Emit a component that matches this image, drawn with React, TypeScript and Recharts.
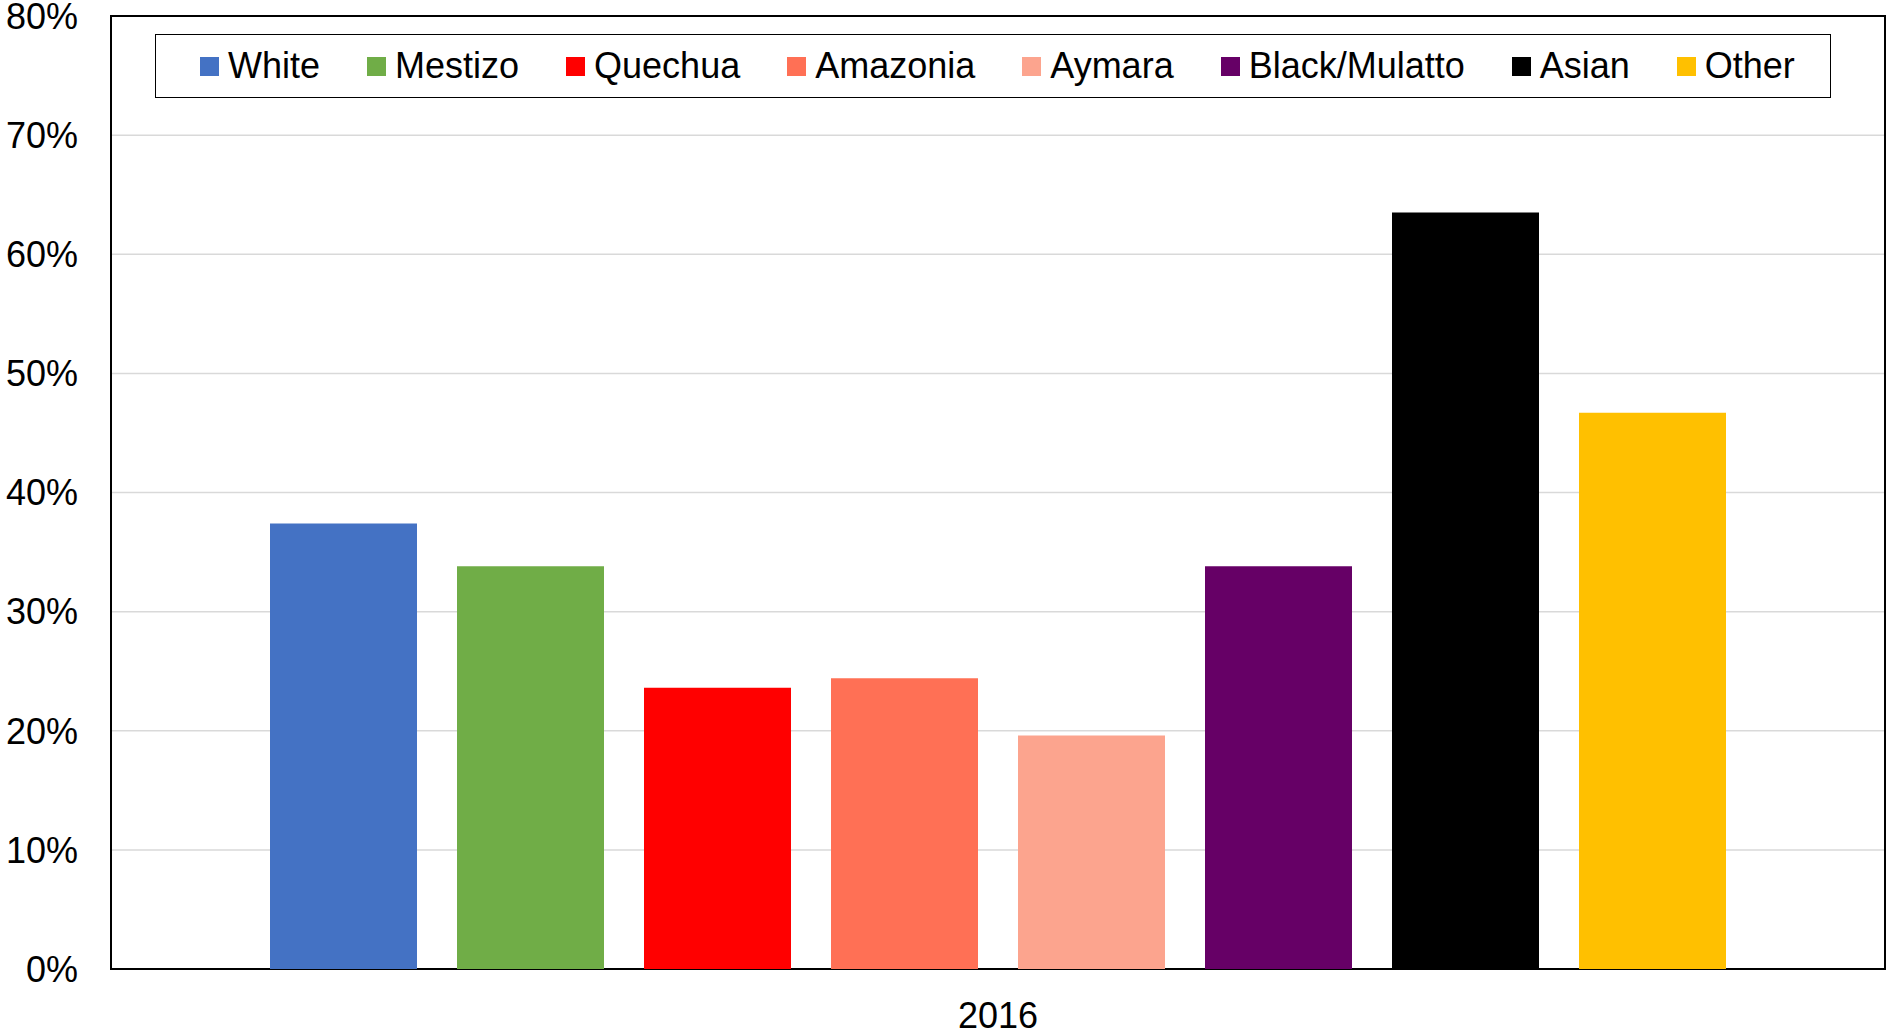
import { BarChart, Bar, XAxis, YAxis, CartesianGrid, Legend, ReferenceArea } from 'recharts';

const categories = ['2016'];
const groups = ['White', 'Mestizo', 'Quechua', 'Amazonia', 'Aymara', 'Black/Mulatto', 'Asian', 'Other'];
const shares = [37.4, 33.8, 23.6, 24.4, 19.6, 33.8, 63.5, 46.7];
const colors = ['#4472C4', '#70AD47', '#FF0000', '#FF7055', '#FCA48E', '#660066', '#000000', '#FFC000'];
const yTicks = [0, 10, 20, 30, 40, 50, 60, 70, 80];

const data = categories.map((year) => {
  const row: Record<string, string | number> = { year };
  groups.forEach((g, i) => {
    row[g] = shares[i];
  });
  return row;
});

const FONT = '"Liberation Sans", Arial, sans-serif';

// legend keeps the series order, not alphabetical
function LegendBox({ payload }: any) {
  const items = [...(payload || [])].sort(
    (a: any, b: any) => groups.indexOf(a.value) - groups.indexOf(b.value)
  );
  return (
    <div
      style={{
        boxSizing: 'border-box',
        width: '100%',
        height: '100%',
        border: '1.5px solid #000',
        display: 'flex',
        alignItems: 'center',
        paddingLeft: 44,
        gap: 47,
        fontFamily: FONT,
        fontSize: 36,
        color: '#000',
        whiteSpace: 'nowrap',
      }}
    >
      {items.map((item: any) => (
        <div key={item.value} style={{ display: 'flex', alignItems: 'center' }}>
          <span style={{ width: 19, height: 19, background: item.color, marginRight: 9, display: 'inline-block' }} />
          <span>{item.value}</span>
        </div>
      ))}
    </div>
  );
}

export default function App() {
  return (
    <div style={{ position: 'absolute', left: 0, top: 0, background: '#fff' }}>
      <BarChart
        width={1887}
        height={1033}
        data={data}
        margin={{ top: 16, right: 2, bottom: 0, left: 0 }}
        barSize={147}
        barGap={40}
      >
        <CartesianGrid vertical={false} stroke="#d9d9d9" strokeWidth={1.5} />
        <XAxis
          dataKey="year"
          height={64}
          axisLine={false}
          tickLine={false}
          tickSize={0}
          tickMargin={33}
          tick={{ fill: '#000', fontSize: 36, fontFamily: FONT }}
        />
        <YAxis
          width={111}
          domain={[0, 80]}
          ticks={yTicks}
          interval={0}
          axisLine={false}
          tickLine={false}
          tickSize={0}
          tickMargin={33}
          tickFormatter={(v: number) => `${v}%`}
          tick={{ fill: '#000', fontSize: 36, fontFamily: FONT }}
        />
        <Legend
          layout="horizontal"
          verticalAlign="middle"
          align="center"
          content={<LegendBox />}
          wrapperStyle={{ position: 'absolute', left: 155, top: 34, width: 1676, height: 64 }}
        />
        {groups.map((g, i) => (
          <Bar key={g} dataKey={g} fill={colors[i]} isAnimationActive={false} />
        ))}
        <ReferenceArea y1={0} y2={80} fill="none" stroke="#000" strokeWidth={2} ifOverflow="visible" />
      </BarChart>
    </div>
  );
}
